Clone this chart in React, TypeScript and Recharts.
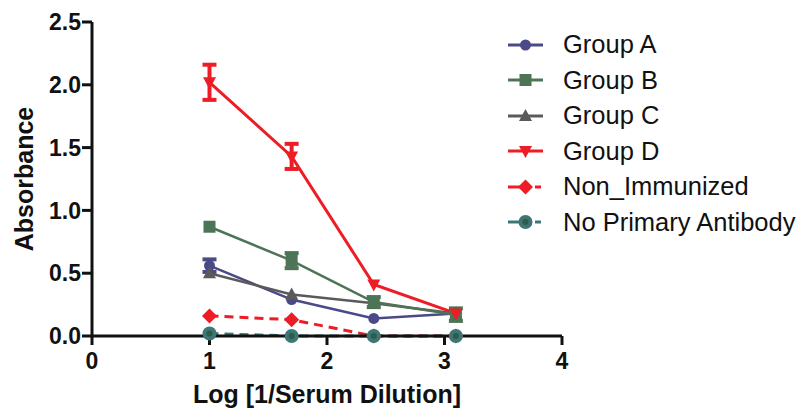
import React from 'react';
import { LineChart, Line, XAxis, YAxis, ErrorBar, Legend, Label } from 'recharts';

const xValues = [1, 1.699, 2.398, 3.097];
const groupA = [0.56, 0.29, 0.14, 0.18];
const groupAErr = [0.05, null, null, null];
const groupB = [0.87, 0.6, 0.27, 0.17];
const groupBErr = [null, 0.06, 0.04, 0.05];
const groupC = [0.5, 0.33, 0.26, 0.18];
const groupCErr = [null, null, null, null];
const groupD = [2.02, 1.43, 0.41, 0.18];
const groupDErr = [0.14, 0.1, null, null];
const nonImmunized = [0.16, 0.13, 0, 0];
const noPrimary = [0.02, 0, 0, 0];

const xTicks = [0, 1, 2, 3, 4];
const yTicks = [0, 0.5, 1, 1.5, 2, 2.5];

const FONT = '"Liberation Sans", Arial, sans-serif';

type Shape = 'circle' | 'square' | 'triangle' | 'triangleDown' | 'diamond' | 'ringCircle';

interface SeriesDef {
  key: string;
  name: string;
  color: string;
  shape: Shape;
  dashed?: boolean;
  width: number;
}

const SERIES: SeriesDef[] = [
  { key: 'a', name: 'Group A', color: '#4b4a88', shape: 'circle', width: 2.5 },
  { key: 'b', name: 'Group B', color: '#4d7457', shape: 'square', width: 2.5 },
  { key: 'c', name: 'Group C', color: '#5a5a5a', shape: 'triangle', width: 2.5 },
  { key: 'd', name: 'Group D', color: '#ee1c25', shape: 'triangleDown', width: 3 },
  { key: 'n', name: 'Non_Immunized', color: '#ee1c25', shape: 'diamond', dashed: true, width: 3 },
  { key: 'p', name: 'No Primary Antibody', color: '#3d7676', shape: 'ringCircle', dashed: true, width: 3 },
];

// draw order: bottom first
const DRAW_ORDER = ['n', 'p', 'a', 'c', 'b', 'd'];

const data = xValues.map((x, i) => ({
  x,
  a: groupA[i], aErr: groupAErr[i],
  b: groupB[i], bErr: groupBErr[i],
  c: groupC[i], cErr: groupCErr[i],
  d: groupD[i], dErr: groupDErr[i],
  n: nonImmunized[i],
  p: noPrimary[i],
}));

const errKeys: Record<string, string> = { a: 'aErr', b: 'bErr', c: 'cErr', d: 'dErr' };

function marker(shape: Shape, cx: number, cy: number, color: string, key?: React.Key) {
  switch (shape) {
    case 'circle':
      return <circle key={key} cx={cx} cy={cy} r={5.5} fill={color} />;
    case 'square':
      return <rect key={key} x={cx - 6} y={cy - 6} width={12} height={12} fill={color} />;
    case 'triangle':
      return <path key={key} d={`M${cx},${cy - 7} L${cx + 6.5},${cy + 5} L${cx - 6.5},${cy + 5} Z`} fill={color} />;
    case 'triangleDown':
      return <path key={key} d={`M${cx},${cy + 7} L${cx + 6.5},${cy - 5} L${cx - 6.5},${cy - 5} Z`} fill={color} />;
    case 'diamond':
      return <path key={key} d={`M${cx},${cy - 7.5} L${cx + 7.5},${cy} L${cx},${cy + 7.5} L${cx - 7.5},${cy} Z`} fill={color} />;
    case 'ringCircle':
      return (
        <g key={key}>
          <circle cx={cx} cy={cy} r={7} fill={color} />
          <circle cx={cx} cy={cy} r={3} fill="#2e5c47" />
        </g>
      );
  }
}

const LegendContent = () => (
  <div style={{ fontFamily: FONT, fontSize: 25.5, color: '#111' }}>
    {SERIES.map((s) => (
      <div key={s.key} style={{ display: 'flex', alignItems: 'center', height: 35.5 }}>
        <svg width={55} height={20} style={{ overflow: 'visible' }}>
          {s.dashed ? (
            <>
              <line x1={0} y1={10} x2={14} y2={10} stroke={s.color} strokeWidth={3} />
              <line x1={27} y1={10} x2={33} y2={10} stroke={s.color} strokeWidth={3} />
            </>
          ) : (
            <line x1={0} y1={10} x2={35} y2={10} stroke={s.color} strokeWidth={3} />
          )}
          {marker(s.shape, 17.5, 10, s.color)}
        </svg>
        <span style={{ whiteSpace: 'nowrap' }}>{s.name}</span>
      </div>
    ))}
  </div>
);

const tickStyle = { fontFamily: FONT, fontSize: 23, fontWeight: 700, fill: '#111' };

export default function App() {
  return (
    <div style={{ position: 'absolute', left: 0, top: 0, width: 806, height: 414, background: '#fff' }}>
      <LineChart width={806} height={414} data={data} margin={{ top: 22, right: 244, left: 0, bottom: 0 }}>
        <XAxis
          type="number"
          dataKey="x"
          domain={[0, 4]}
          ticks={xTicks}
          height={78}
          axisLine={{ stroke: '#111', strokeWidth: 3 }}
          tickLine={{ stroke: '#111', strokeWidth: 3 }}
          tickSize={9}
          tickMargin={8}
          tick={tickStyle}
        >
          <Label
            content={() => (
              <text x={327} y={403} textAnchor="middle" fontFamily={FONT} fontSize={25} fontWeight={700} fill="#111">
                Log [1/Serum Dilution]
              </text>
            )}
          />
        </XAxis>
        <YAxis
          type="number"
          domain={[0, 2.5]}
          ticks={yTicks}
          width={92}
          axisLine={{ stroke: '#111', strokeWidth: 3 }}
          tickLine={{ stroke: '#111', strokeWidth: 3 }}
          tickSize={10}
          tickMargin={1}
          tick={tickStyle}
          tickFormatter={(v: number) => v.toFixed(1)}
        >
          <Label
            content={() => (
              <text x={33} y={179} transform="rotate(-90 33 179)" textAnchor="middle" fontFamily={FONT} fontSize={25} fontWeight={700} fill="#111">
                Absorbance
              </text>
            )}
          />
        </YAxis>
        <Legend
          layout="vertical"
          align="center"
          verticalAlign="middle"
          wrapperStyle={{ left: 508, top: 27, width: 300 }}
          content={LegendContent}
        />
        {DRAW_ORDER.map((k) => {
          const s = SERIES.find((q) => q.key === k)!;
          return (
            <Line
              key={s.key}
              dataKey={s.key}
              name={s.name}
              stroke={s.color}
              strokeWidth={s.width}
              strokeDasharray={s.dashed ? '9 6' : undefined}
              isAnimationActive={false}
              activeDot={false}
              dot={(p: any) => marker(s.shape, p.cx, p.cy, s.color, `${s.key}-${p.index}`)}
            >
              {errKeys[s.key] && (
                <ErrorBar dataKey={errKeys[s.key]} direction="y" width={7} stroke={s.color} strokeWidth={4} />
              )}
            </Line>
          );
        })}
      </LineChart>
    </div>
  );
}
